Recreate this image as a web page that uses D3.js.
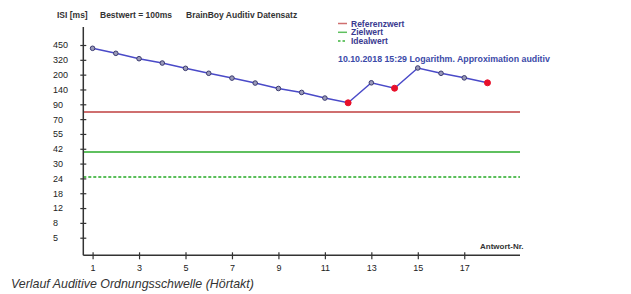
<!DOCTYPE html>
<html><head><meta charset="utf-8">
<script src="https://cdn.jsdelivr.net/npm/d3@7"></script>
<style>
body{margin:0;background:#fff;}
svg{display:block;font-family:"Liberation Sans",Arial,sans-serif;}
</style></head><body>
<svg id="c" width="631" height="294"></svg>
<script>
const yLabels = [450, 320, 200, 140, 90, 70, 55, 42, 30, 24, 18, 12, 8, 5];
const xTicks = [1, 3, 5, 7, 9, 11, 13, 15, 17];
const answers = [1,2,3,4,5,6,7,8,9,10,11,12,13,14,15,16,17,18];
const isi = [421, 377, 330, 294, 251, 211, 186, 166, 144, 130, 111, 95, 167, 145, 254, 211, 187, 167];
const errorFlags = [0,0,0,0,0,0,0,0,0,0,0,1,0,1,0,0,0,1];
const refLines = [
  {name: "Referenzwert", value: 79, color: "#cf6f6f", dash: null},
  {name: "Zielwert", value: 39, color: "#5fc05f", dash: null},
  {name: "Idealwert", value: 24.4, color: "#3cb43c", dash: "3,2"}
];
const headerTexts = ["ISI [ms]", "Bestwert = 100ms", "BrainBoy Auditiv Datensatz"];
const subtitle = "10.10.2018 15:29 Logarithm. Approximation auditiv";
const xTitle = "Antwort-Nr.";
const caption = "Verlauf Auditive Ordnungsschwelle (Hörtakt)";

const svg = d3.select("#c");
const left = 83.3, right = 520, axisTop = 27, axisBottom = 255.3;

const yPos = d3.scalePoint().domain(yLabels).range([45, 237.7]);
const y = d3.scaleLinear().domain(yLabels).range(yLabels.map(v => yPos(v)));
const x = d3.scaleLinear().domain([0.6, 19.4]).range([left, right]);

// reference lines
refLines.forEach(r => {
  svg.append("line")
    .attr("x1", left).attr("x2", right)
    .attr("y1", Math.round(y(r.value))).attr("y2", Math.round(y(r.value)))
    .attr("stroke", r.color).attr("stroke-width", 2)
    .attr("stroke-dasharray", r.dash)
    .attr("stroke-opacity", r.dash ? 0.85 : 1);
});

// axes
const axisColor = "#333";
const yAxis = svg.append("g").attr("transform", `translate(${left},0)`)
  .call(d3.axisLeft(y).tickValues(yLabels).tickSize(3).tickFormat(d3.format("d")));
yAxis.select(".domain").remove();
yAxis.selectAll(".tick line").attr("x1", -3).attr("x2", 3).attr("stroke", axisColor).attr("stroke-width", 1.2);
yAxis.selectAll(".tick text").attr("x", 53 - left).attr("text-anchor", "start")
  .attr("font-size", 9).attr("fill", "#222").attr("font-family", "Liberation Sans, Arial");

const xAxis = svg.append("g").attr("transform", `translate(0,${axisBottom})`)
  .call(d3.axisBottom(x).tickValues(xTicks).tickSize(3));
xAxis.select(".domain").remove();
xAxis.selectAll(".tick line").attr("y1", -3).attr("y2", 4).attr("stroke", axisColor).attr("stroke-width", 1.2);
xAxis.selectAll(".tick text").attr("y", 9).attr("dy", "0.71em")
  .attr("font-size", 9).attr("fill", "#222").attr("font-family", "Liberation Sans, Arial");

svg.append("line").attr("x1", left).attr("x2", left).attr("y1", axisTop).attr("y2", axisBottom)
  .attr("stroke", axisColor).attr("stroke-width", 1.5);
svg.append("line").attr("x1", left).attr("x2", right).attr("y1", axisBottom).attr("y2", axisBottom)
  .attr("stroke", axisColor).attr("stroke-width", 1.5);

// data line
const pts = answers.map((a, i) => ({a, v: isi[i], e: errorFlags[i]}));
svg.append("path").datum(pts)
  .attr("d", d3.line().x(d => x(d.a)).y(d => y(d.v)))
  .attr("fill", "none").attr("stroke", "#4a4ac8").attr("stroke-width", 1.5);
svg.selectAll("circle.pt").data(pts).join("circle")
  .attr("cx", d => x(d.a)).attr("cy", d => y(d.v))
  .attr("r", d => d.e ? 3 : 2.3)
  .attr("fill", d => d.e ? "#e8102a" : "#9a9ab8")
  .attr("stroke", d => d.e ? "#e8102a" : "#3a3a70").attr("stroke-width", 1);

// header texts
const hx = [57, 100, 186];
headerTexts.forEach((t, i) => {
  svg.append("text").attr("x", hx[i]).attr("y", 18).text(t)
    .attr("font-size", 8.5).attr("font-weight", "bold").attr("fill", "#333");
});

// legend
refLines.forEach((r, i) => {
  const ly = 23.5 + i * 8.8;
  svg.append("line").attr("x1", 338).attr("x2", 347).attr("y1", ly).attr("y2", ly)
    .attr("stroke", r.color).attr("stroke-width", 1.5).attr("stroke-dasharray", r.dash ? "2.5,2" : null);
  svg.append("text").attr("x", 351).attr("y", ly + 3).text(r.name)
    .attr("font-size", 8.5).attr("font-weight", "bold").attr("fill", "#3a3a90");
});

svg.append("text").attr("x", 338).attr("y", 61.5).text(subtitle)
  .attr("font-size", 8.8).attr("font-weight", "bold").attr("fill", "#3b4aa8");

svg.append("text").attr("x", 480).attr("y", 248.5).text(xTitle)
  .attr("font-size", 8).attr("font-weight", "bold").attr("fill", "#333");

svg.append("text").attr("x", 11).attr("y", 288).text(caption)
  .attr("font-size", 12.4).attr("font-style", "italic").attr("fill", "#333");
</script>
</body></html>
